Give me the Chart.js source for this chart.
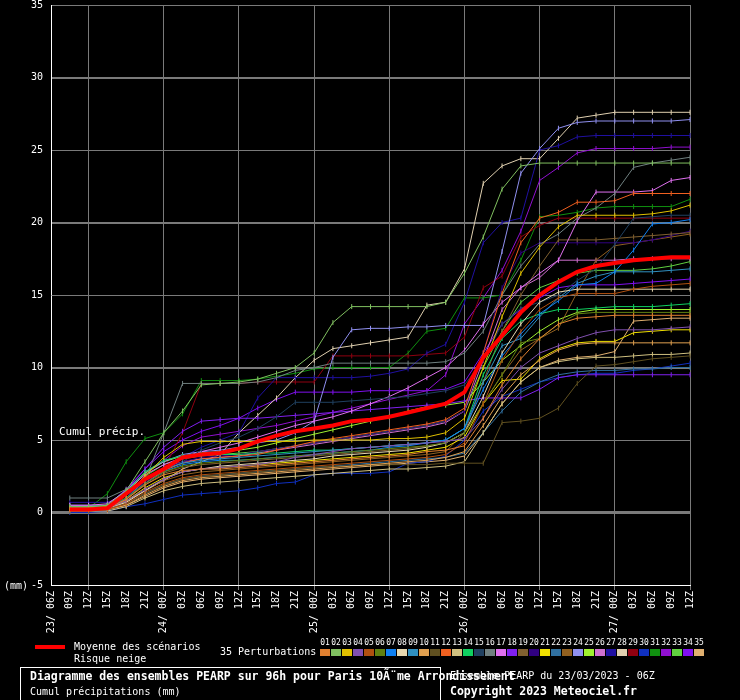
<!DOCTYPE html>
<html>
<head>
<meta charset="utf-8">
<script src="https://cdn.jsdelivr.net/npm/chart.js@4.4.1/dist/chart.umd.min.js"></script>
<style>
  body { margin: 0; background: #000; }
  canvas { display: block; }
</style>
</head>
<body>
<canvas id="chart" width="740" height="700"></canvas>
<script>
// time steps, every 3h from 23/06Z to 27/12Z
const echeances = [
  '23/ 06Z', '09Z', '12Z', '15Z', '18Z', '21Z',
  '24/ 00Z', '03Z', '06Z', '09Z', '12Z', '15Z', '18Z', '21Z',
  '25/ 00Z', '03Z', '06Z', '09Z', '12Z', '15Z', '18Z', '21Z',
  '26/ 00Z', '03Z', '06Z', '09Z', '12Z', '15Z', '18Z', '21Z',
  '27/ 00Z', '03Z', '06Z', '09Z', '12Z'
];

// mean of the scenarios (mm)
const moyenne = [null, 0.2,0.2,0.3,1.3,2.3,3.0,3.8,4.0,4.1,4.4, 4.9,5.3,5.6,5.8,6.0,6.3,6.4,6.6,6.9,7.2, 7.5,8.3,10.7,12.2,13.8,15.0,15.9,16.6,17.0,17.2, 17.4,17.5,17.6,17.6];

// the 35 perturbations (mm)
const p01 = [null, 0.2,0.2,0.3,0.9,1.9,2.6,2.9,3.0,3.0,3.1, 3.2,3.3,3.4,3.5,3.6,3.7,3.8,3.9,4.0,4.2, 4.3,4.6,6.5,8.8,10.6,12.0,13.0,13.4,13.5,13.6, 13.6,13.6,13.6,13.6];
const p02 = [null, 0.4,0.4,0.5,1.5,3.5,5.5,7.0,8.8,8.9,9.0, 9.2,9.6,10.0,11.0,13.1,14.2,14.2,14.2,14.2,14.2, 14.5,16.5,19.0,22.3,23.9,24.1,24.1,24.1,24.1,24.1, 24.1,24.1,24.1,24.1];
const p03 = [null, 0.3,0.3,0.4,1.2,2.5,3.8,4.7,4.9,4.9,4.9, 4.9,4.9,4.9,5.0,5.0,5.0,5.0,5.1,5.1,5.2, 5.5,6.5,10.0,13.5,16.5,18.3,19.7,20.5,20.5,20.5, 20.5,20.6,20.8,21.2];
const p04 = [null, 0.3,0.3,0.3,0.8,1.6,2.3,2.8,3.0,3.1,3.2, 3.3,3.5,3.8,4.0,4.2,4.4,4.5,4.6,4.7,4.8, 4.9,5.1,6.5,8.5,10.0,11.0,11.5,12.0,12.4,12.6, 12.6,12.6,12.7,12.8];
const p05 = [null, 0.2,0.2,0.2,0.6,1.4,2.0,2.4,2.6,2.7,2.8, 2.9,3.0,3.1,3.2,3.3,3.4,3.5,3.6,3.7,3.8, 4.0,4.8,7.5,10.5,12.5,14.0,14.8,15.1,15.1,15.1, 15.4,15.6,15.7,15.8];
const p06 = [null, 0.3,0.3,0.4,1.0,2.0,2.8,3.2,3.4,3.5,3.6, 3.7,3.8,3.9,4.0,4.1,4.2,4.3,4.4,4.5,4.6, 4.8,5.5,7.5,9.5,11.7,12.0,13.0,13.7,13.8,13.8, 13.8,13.8,13.8,13.8];
const p07 = [null, 0.2,0.2,0.3,1.0,2.0,2.8,3.3,3.5,3.6,3.6, 3.7,3.8,3.9,4.0,4.1,4.2,4.3,4.5,4.6,4.8, 5.0,5.8,8.5,10.8,12.3,13.7,14.6,15.7,15.8,16.6, 18.1,19.9,20.0,20.2];
const p08 = [null, 0.2,0.2,0.3,0.7,1.5,2.3,2.8,3.0,3.2,3.3, 3.4,3.5,3.6,3.7,3.9,4.0,4.1,4.2,4.3,4.5, 4.8,5.5,8.0,11.0,13.0,14.5,15.2,15.4,15.4,15.4, 15.4,15.4,15.4,15.4];
const p09 = [null, 0.3,0.3,0.3,1.0,2.2,3.0,3.4,3.6,3.7,3.8, 3.9,4.0,4.1,4.2,4.3,4.4,4.5,4.6,4.7,4.8, 5.0,5.8,9.0,11.5,12.0,13.5,14.8,15.8,16.3,16.6, 16.6,16.6,16.7,16.8];
const p10 = [null, 0.2,0.2,0.2,0.5,1.2,1.8,2.2,2.4,2.5,2.6, 2.7,2.8,2.9,3.0,3.1,3.2,3.3,3.4,3.5,3.6, 3.8,4.2,6.0,8.0,9.5,10.5,11.2,11.6,11.7,11.7, 11.7,11.7,11.7,11.7];
const p11 = [null, 0.1,0.1,0.2,0.6,1.3,1.9,2.3,2.5,2.6,2.7, 2.8,2.9,3.0,3.1,3.2,3.2,3.3,3.3,3.3,3.3, 3.4,3.4,3.4,6.2,6.3,6.5,7.2,8.9,10.1,10.2, 10.4,10.6,10.7,10.8];
const p12 = [null, 0.3,0.3,0.3,0.9,2.0,2.9,3.4,3.7,3.8,3.9, 4.0,4.3,4.6,4.9,5.1,5.3,5.5,5.7,5.9,6.1, 6.4,7.2,11.0,15.1,18.6,20.3,20.7,21.4,21.4,21.5, 22.0,22.0,22.0,22.0];
const p13 = [null, 0.1,0.1,0.1,0.4,1.0,1.5,1.8,2.0,2.1,2.2, 2.3,2.4,2.5,2.6,2.7,2.8,2.9,3.0,3.0,3.1, 3.2,3.5,5.5,7.5,9.0,10.0,10.4,10.6,10.7,10.7, 10.8,10.9,10.9,11.0];
const p14 = [null, 0.4,0.4,0.5,1.4,2.8,3.6,3.9,4.0,4.0,4.0, 4.1,4.1,4.2,4.3,4.3,4.4,4.5,4.6,4.7,4.8, 5.0,5.8,9.5,12.0,13.2,13.7,14.0,14.0,14.1,14.2, 14.2,14.2,14.3,14.4];
const p15 = [null, 0.3,0.3,0.4,1.0,2.0,2.8,3.5,4.3,4.8,5.2, 5.8,6.6,7.6,7.6,7.6,7.7,7.8,7.9,8.0,8.2, 8.4,8.8,10.5,13.0,14.1,14.5,15.0,16.0,16.8,18.5, 20.3,20.4,20.5,20.5];
const p16 = [null, 1.0,1.0,1.0,1.6,2.2,5.5,8.9,8.9,8.9,8.9, 9.0,9.3,9.8,10.0,10.3,10.3,10.3,10.3,10.3,10.3, 10.4,11.0,12.5,15.0,17.0,18.5,19.2,20.3,21.0,22.0, 23.8,24.1,24.3,24.5];
const p17 = [null, 0.5,0.5,0.6,1.5,2.6,3.3,3.8,4.2,4.5,4.8, 5.2,5.6,6.0,6.3,6.6,7.0,7.5,8.0,8.6,9.3, 10.0,11.2,13.0,14.5,15.5,16.5,17.4,20.1,22.1,22.1, 22.1,22.2,22.9,23.1];
const p18 = [null, 0.4,0.4,0.5,1.6,3.0,4.5,5.6,6.3,6.4,6.5, 6.5,6.6,6.7,6.8,6.9,7.0,7.1,7.2,7.3,7.4, 7.5,7.7,7.9,7.9,7.9,8.5,9.3,9.5,9.5,9.5, 9.5,9.5,9.5,9.5];
const p19 = [null, 0.2,0.2,0.3,0.9,1.9,2.7,3.1,3.3,3.4,3.5, 3.6,3.7,3.8,3.9,4.0,4.1,4.2,4.3,4.4,4.6, 4.8,5.5,9.0,12.5,15.0,17.0,18.8,18.8,18.8,18.9, 19.0,19.1,19.2,19.3];
const p20 = [null, 0.3,0.3,0.3,1.0,2.1,3.0,3.5,3.8,3.9,4.0, 4.2,4.4,4.6,4.8,5.0,5.2,5.4,5.6,5.8,6.0, 6.3,7.0,11.0,15.5,17.9,18.6,18.6,18.6,18.6,18.6, 18.6,18.8,19.1,19.4];
const p21 = [null, 0.2,0.2,0.3,0.8,1.7,2.4,2.8,3.0,3.1,3.2, 3.3,3.4,3.5,3.6,3.7,3.8,3.9,4.0,4.1,4.3, 4.5,5.2,7.5,9.1,9.2,10.6,11.3,11.7,11.8,11.8, 12.4,12.5,12.6,12.6];
const p22 = [null, 0.2,0.2,0.2,0.6,1.3,1.9,2.3,2.5,2.6,2.7, 2.8,2.9,3.0,3.1,3.2,3.3,3.4,3.5,3.6,3.7, 3.8,4.1,5.5,7.0,8.3,9.0,9.5,9.7,9.8,9.8, 9.9,9.9,10.0,10.0];
const p23 = [null, 0.2,0.2,0.2,0.7,1.5,2.2,2.6,2.8,2.9,3.0, 3.1,3.2,3.3,3.4,3.5,3.6,3.7,3.8,3.9,4.0, 4.2,5.5,7.5,9.5,11.2,12.0,12.7,15.2,17.4,18.4, 18.6,18.8,19.0,19.2];
const p24 = [null, 0.5,0.5,0.5,1.5,2.8,3.5,4.0,4.2,4.3,4.5, 4.8,5.0,5.5,6.3,10.7,12.6,12.7,12.7,12.8,12.8, 12.9,12.9,12.9,18.0,23.4,25.1,26.5,26.9,27.0,27.0, 27.0,27.0,27.0,27.1];
const p25 = [null, 0.3,0.3,0.4,1.3,2.7,3.5,3.9,4.1,4.2,4.3, 4.5,4.8,5.1,5.4,5.7,6.0,6.3,6.6,7.0,7.3, 7.4,7.6,9.0,10.5,11.5,12.5,13.3,13.8,14.0,14.0, 14.0,14.0,14.0,14.0];
const p26 = [null, 0.4,0.4,0.4,1.2,2.3,3.1,3.5,3.7,3.8,3.9, 4.1,4.3,4.5,4.7,4.9,5.1,5.3,5.5,5.7,5.9, 6.2,7.0,10.5,14.0,15.5,16.2,17.4,17.4,17.4,17.4, 17.5,17.5,17.5,17.5];
const p27 = [null, 0.7,0.7,0.7,1.2,2.0,3.0,3.8,4.5,5.0,5.5, 7.9,9.3,9.3,9.3,9.3,9.3,9.4,9.6,9.9,11.0, 11.6,14.5,18.6,20.0,20.3,25.0,25.3,25.9,26.0,26.0, 26.0,26.0,26.0,26.0];
const p28 = [null, 0.3,0.3,0.3,0.8,1.5,2.2,3.0,3.5,4.0,5.5, 6.7,7.9,9.3,10.5,11.3,11.5,11.7,11.9,12.1,14.3, 14.5,16.8,22.7,23.9,24.4,24.4,25.8,27.2,27.4,27.6, 27.6,27.6,27.6,27.6];
const p29 = [null, 0.2,0.2,0.3,1.0,2.0,3.0,5.5,8.9,8.9,8.9, 9.0,9.0,9.0,9.0,10.8,10.8,10.8,10.8,10.8,10.9, 11.0,12.1,15.5,16.3,19.0,19.8,20.3,20.3,20.3,20.3, 20.3,20.3,20.3,20.3];
const p30 = [null, 0.0,0.0,0.1,0.4,0.6,0.9,1.2,1.3,1.4,1.5, 1.7,2.0,2.1,2.6,2.7,2.7,2.7,2.8,3.4,3.5, 3.9,5.0,7.0,8.0,8.5,9.0,9.3,9.5,9.6,9.6, 9.8,9.9,10.1,10.3];
const p31 = [null, 0.3,0.3,1.3,3.5,5.1,5.5,6.8,9.1,9.1,9.1, 9.2,9.4,9.6,9.9,10.0,10.0,10.0,10.0,11.0,12.5, 12.7,14.8,14.8,15.0,17.4,20.4,20.5,20.7,21.0,21.1, 21.1,21.1,21.1,21.6];
const p32 = [null, 0.4,0.4,0.5,1.4,2.7,3.6,4.6,5.2,5.4,5.6, 5.8,6.0,6.3,6.6,6.9,7.2,7.5,7.8,8.1,8.4, 9.5,13.0,14.8,16.7,19.4,22.9,23.8,24.8,25.1,25.1, 25.1,25.1,25.2,25.2];
const p33 = [null, 0.3,0.3,0.4,1.2,2.5,3.3,3.7,3.9,4.0,4.1, 4.2,4.4,4.6,4.8,5.0,5.2,5.4,5.6,5.8,6.0, 6.3,7.0,10.0,12.5,14.5,15.5,16.0,16.5,16.7,16.7, 16.7,16.8,17.0,17.3];
const p34 = [null, 0.4,0.4,0.5,1.5,3.0,4.2,5.0,5.6,6.0,6.5, 7.2,7.8,8.3,8.3,8.3,8.3,8.4,8.4,8.4,8.4, 8.5,9.0,11.0,13.0,14.0,14.8,15.5,15.7,15.7,15.7, 15.8,15.9,16.0,16.1];
const p35 = [null, 0.1,0.1,0.2,0.5,1.1,1.7,2.1,2.3,2.4,2.5, 2.6,2.7,2.8,2.9,3.0,3.1,3.2,3.3,3.4,3.5, 3.6,3.9,5.5,7.5,9.0,10.0,10.5,10.7,10.8,11.1, 13.2,13.3,13.4,13.4];

const perturbations = [p01,p02,p03,p04,p05,p06,p07,p08,p09,p10,p11,p12,p13,p14,p15,p16,p17,p18,
  p19,p20,p21,p22,p23,p24,p25,p26,p27,p28,p29,p30,p31,p32,p33,p34,p35];

const couleurs = [
  '#e08030','#80c060','#e0c000','#8050b0','#b05010','#608010','#1080f0','#e8d8b0','#3090c0','#e0a050',
  '#605020','#f06020','#d0c080','#10d060','#204060','#708080','#e070f0','#8020f0','#806030','#300080',
  '#f0e000','#3070a0','#906020','#9090f0','#a0f030','#d070d0','#2010a0','#e0d0b0','#900010','#1030c0',
  '#109010','#9010d0','#60d040','#8010f0','#e0b070'
];

const MONO = '"DejaVu Sans Mono", monospace';
const GRID = '#7a7a7a';

const datasets = [{
  label: 'Moyenne des scénarios',
  data: moyenne,
  borderColor: '#ff0000',
  borderWidth: 4,
  pointRadius: 0,
  order: 0,
}];
perturbations.forEach((serie, i) => {
  datasets.push({
    label: String(i + 1).padStart(2, '0'),
    data: serie,
    borderColor: couleurs[i],
    borderWidth: 1,
    pointStyle: 'line',
    pointRotation: 90,
    pointRadius: 2.5,
    pointBorderWidth: 1,
    pointBorderColor: couleurs[i],
    order: 1,
  });
});

// black page, legend and captions around the plot
const decor = {
  id: 'decor',
  beforeDraw(chart) {
    const c = chart.ctx;
    c.save();
    c.fillStyle = '#000';
    c.fillRect(0, 0, chart.width, chart.height);
    c.restore();
  },
  beforeDatasetsDraw(chart) {
    const c = chart.ctx;
    c.save();
    c.fillStyle = '#fff';
    c.font = '11px ' + MONO;
    c.textBaseline = 'middle';
    c.fillText('Cumul précip.', 59, 432);
    c.restore();
  },
  afterDraw(chart) {
    const c = chart.ctx;
    c.save();
    c.fillStyle = '#fff';
    c.textBaseline = 'middle';
    c.font = '10px ' + MONO;
    c.fillText('(mm)', 4, 586);

    // mean legend
    c.fillStyle = '#ff0000';
    c.fillRect(35, 645, 30, 4);
    c.fillStyle = '#fff';
    c.fillText('Moyenne des scénarios', 74, 647);
    c.fillText('Risque neige', 74, 659);
    c.fillText('35 Perturbations', 220, 652);

    // member colour boxes
    c.textAlign = 'center';
    c.font = '8px ' + MONO;
    couleurs.forEach((col, i) => {
      const x = 320 + i * 11;
      c.fillStyle = col;
      c.fillRect(x, 649, 10, 7);
      c.fillStyle = '#fff';
      c.fillText(String(i + 1).padStart(2, '0'), x + 5, 643);
    });
    c.textAlign = 'left';

    // title box
    c.strokeStyle = '#fff';
    c.lineWidth = 1;
    c.strokeRect(20.5, 667.5, 420, 40);
    c.fillStyle = '#fff';
    c.font = '10px ' + MONO;
    c.fillText('Ensemble PEARP du 23/03/2023 - 06Z', 450, 676);
    c.fillText('Cumul précipitations (mm)', 30, 692);
    c.font = 'bold 11.5px ' + MONO;
    c.fillText('Diagramme des ensembles PEARP sur 96h pour Paris 10Ã¨me Arrondissement', 30, 677);
    c.fillText('Copyright 2023 Meteociel.fr', 450, 692);
    c.restore();
  }
};

new Chart(document.getElementById('chart'), {
  type: 'line',
  data: { labels: echeances, datasets },
  plugins: [decor],
  options: {
    responsive: false,
    animation: false,
    devicePixelRatio: 1,
    layout: { padding: { top: 5, right: 50, left: 0, bottom: 0 } },
    elements: { line: { tension: 0 } },
    plugins: { legend: { display: false }, tooltip: { enabled: false } },
    scales: {
      x: {
        offset: false,
        afterFit: (s) => {
          s.height = 115;
          s.paddingLeft = 0;
          s.paddingRight = 0;
        },
        border: { color: '#fff', width: 1 },
        grid: {
          color: (ctx) => ((ctx.index - 2) % 4 === 0 ? GRID : 'rgba(0,0,0,0)'),
          tickLength: 5,
        },
        ticks: {
          autoSkip: false,
          minRotation: 90,
          maxRotation: 90,
          padding: 1,
          color: '#fff',
          font: { family: MONO, size: 10 },
        },
      },
      y: {
        min: -5,
        max: 35,
        afterFit: (s) => {
          s.width = 51;
          s.paddingTop = 0;
          s.paddingBottom = 0;
        },
        border: { color: '#fff', width: 1 },
        grid: {
          color: GRID,
          drawTicks: false,
          lineWidth: (ctx) => {
            const v = ctx.tick.value;
            if (v === 0) return 3;
            return v > 0 && v % 10 === 0 ? 2 : 1;
          },
        },
        ticks: {
          stepSize: 5,
          padding: 8,
          color: '#fff',
          font: { family: MONO, size: 10 },
        },
      },
    },
  },
});
</script>
</body>
</html>
